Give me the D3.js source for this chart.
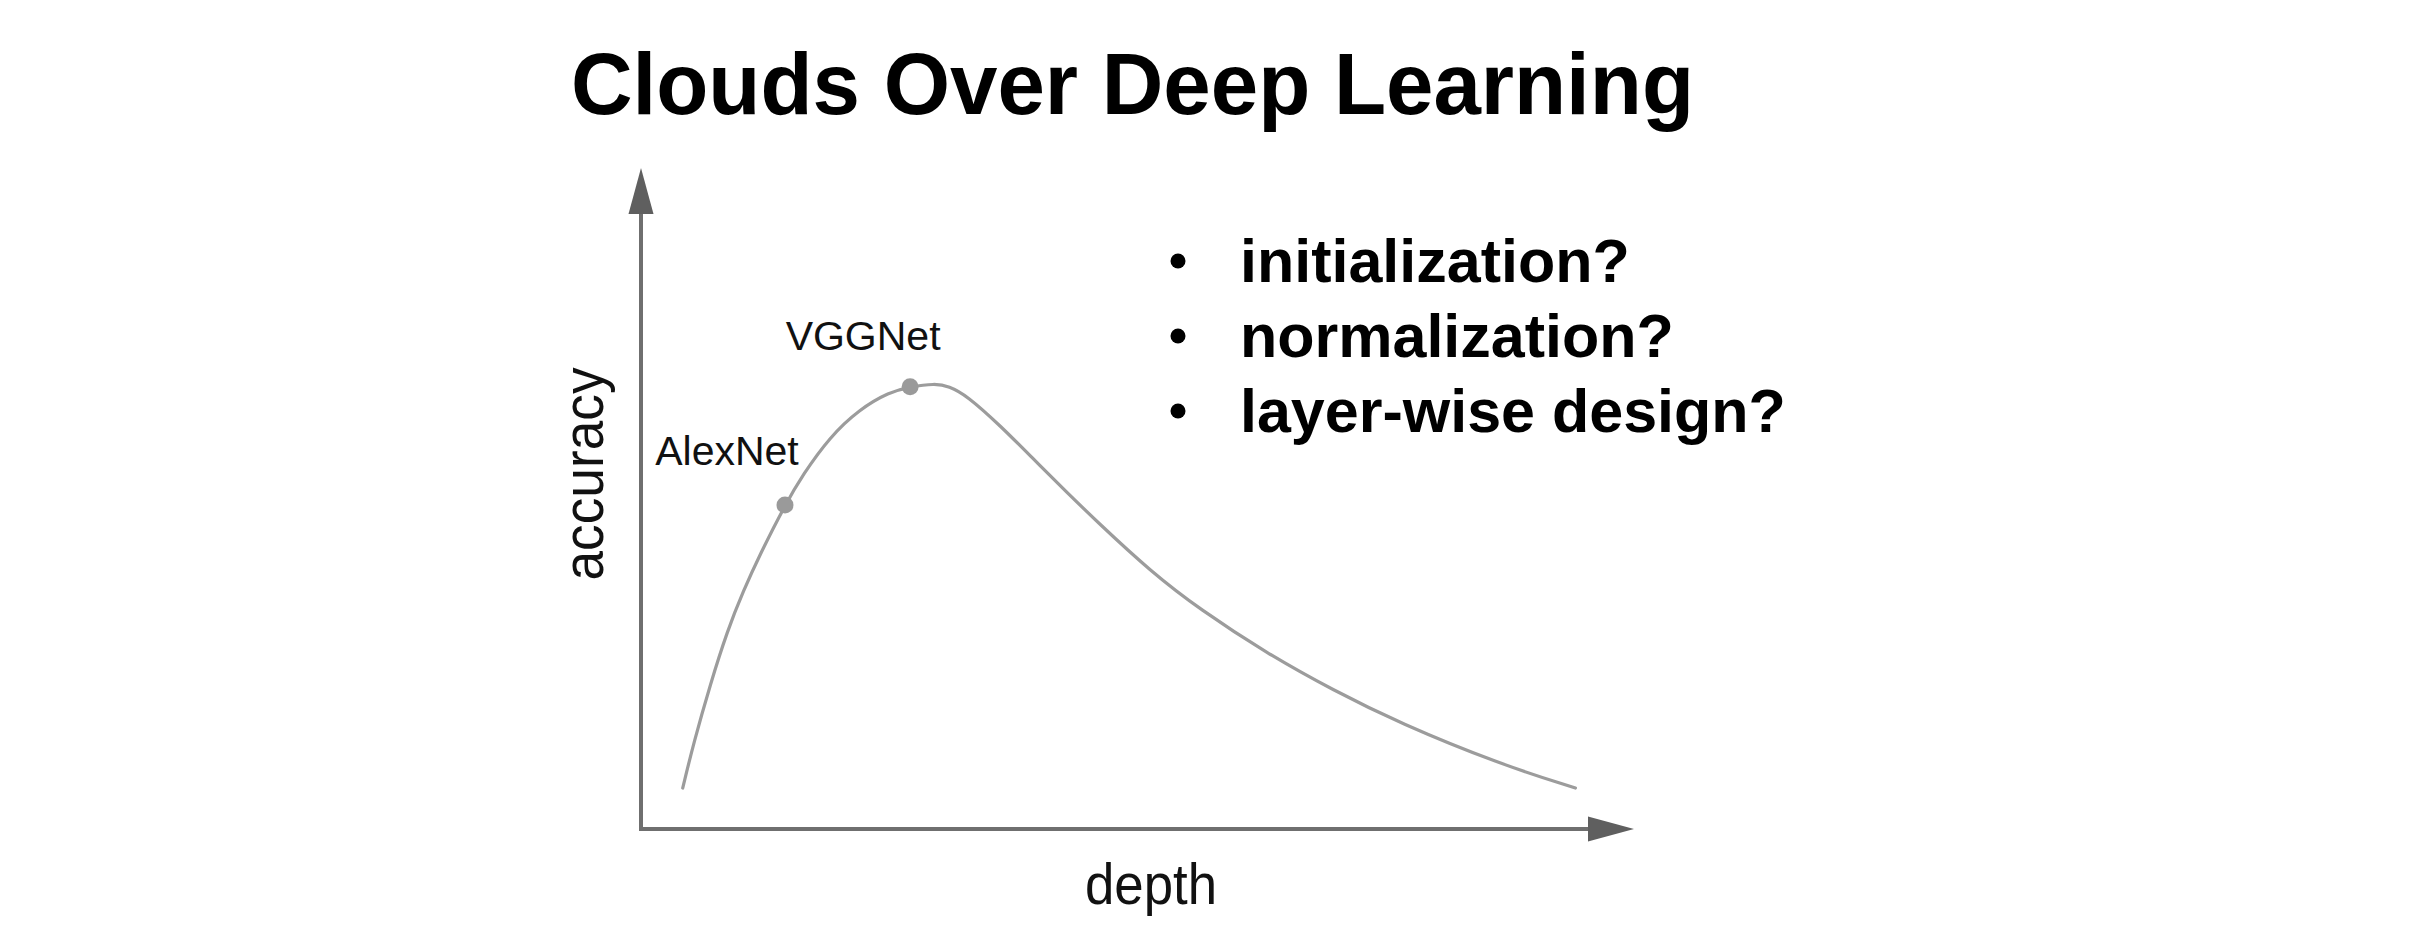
<!DOCTYPE html>
<html>
<head>
<meta charset="utf-8">
<script src="https://cdn.jsdelivr.net/npm/d3@7"></script>
<style>
  html, body { margin: 0; padding: 0; background: #fff; }
  svg { display: block; }
  text { font-family: "Liberation Sans", Arial, Helvetica, sans-serif; }
</style>
</head>
<body>
<svg id="chart" width="2421" height="947"></svg>
<script>
// ---- data ----
const title = "Clouds Over Deep Learning";
const xLabel = "depth";
const yLabel = "accuracy";
const curveDepth    = [4.2, 5.3, 7.0, 8.7, 10.3, 12.0, 14.5, 16.3, 19.0, 22.0, 25.0, 27.1, 29.6, 31.0, 32.8, 36.2, 39.5, 42.9, 46.0, 51.3, 56.3, 63.0, 69.7, 76.4, 86.5, 94.1];
const curveAccuracy = [6.2, 13.0, 22.0, 30.0, 36.0, 41.6, 49.0, 53.6, 59.3, 63.5, 66.1, 66.9, 67.4, 67.0, 65.6, 61.0, 56.0, 50.9, 46.4, 39.0, 33.2, 26.6, 21.0, 16.0, 9.8, 6.2];
const modelNames    = ["AlexNet", "VGGNet"];
const modelDepth    = [14.5, 27.1];
const modelAccuracy = [49.0, 66.9];
const bullets = ["initialization?", "normalization?", "layer-wise design?"];

// ---- layout ----
const svg = d3.select("#chart");
const x = d3.scaleLinear().domain([0, 100]).range([641, 1634]);
const y = d3.scaleLinear().domain([0, 100]).range([829, 168]);
const axisColor = "#6f6f6f";
const arrowLen = 46, arrowHalf = 12.5;

// title
svg.append("text")
  .attr("x", 571).attr("y", 114)
  .attr("font-size", 87).attr("font-weight", "bold").attr("fill", "#000")
  .attr("textLength", 1123).attr("lengthAdjust", "spacingAndGlyphs")
  .text(title);

// axes
const ax = svg.append("g");
ax.append("line")
  .attr("x1", x(0)).attr("y1", y(0))
  .attr("x2", x(100) - arrowLen + 2).attr("y2", y(0))
  .attr("stroke", axisColor).attr("stroke-width", 4);
ax.append("path")
  .attr("d", `M${x(100)},${y(0)} L${x(100) - arrowLen},${y(0) - arrowHalf} L${x(100) - arrowLen},${y(0) + arrowHalf} Z`)
  .attr("fill", "#5f5f5f");
ax.append("line")
  .attr("x1", x(0)).attr("y1", y(0) + 2)
  .attr("x2", x(0)).attr("y2", y(100) + arrowLen - 2)
  .attr("stroke", axisColor).attr("stroke-width", 4);
ax.append("path")
  .attr("d", `M${x(0)},${y(100)} L${x(0) - arrowHalf},${y(100) + arrowLen} L${x(0) + arrowHalf},${y(100) + arrowLen} Z`)
  .attr("fill", "#5f5f5f");

// axis labels
svg.append("text")
  .attr("x", 1151).attr("y", 904)
  .attr("text-anchor", "middle").attr("font-size", 57).attr("fill", "#111")
  .attr("textLength", 132).attr("lengthAdjust", "spacingAndGlyphs")
  .text(xLabel);
svg.append("text")
  .attr("transform", "translate(603,474) rotate(-90)")
  .attr("text-anchor", "middle").attr("font-size", 57).attr("fill", "#111")
  .attr("textLength", 213).attr("lengthAdjust", "spacingAndGlyphs")
  .text(yLabel);

// curve
const pts = curveDepth.map((d, i) => [d, curveAccuracy[i]]);
const line = d3.line().x(d => x(d[0])).y(d => y(d[1])).curve(d3.curveBasis);
svg.append("path")
  .datum(pts)
  .attr("d", line)
  .attr("fill", "none")
  .attr("stroke", "#9c9c9c")
  .attr("stroke-width", 3.2)
  .attr("stroke-linecap", "round");

// model points
const models = modelNames.map((n, i) => ({ name: n, d: modelDepth[i], a: modelAccuracy[i] }));
svg.selectAll("circle.model").data(models).enter().append("circle")
  .attr("class", "model")
  .attr("cx", d => x(d.d)).attr("cy", d => y(d.a))
  .attr("r", 8.5).attr("fill", "#9a9a9a");
const labelOff = { AlexNet: [-58, -40], VGGNet: [-47, -37] };
svg.selectAll("text.model").data(models).enter().append("text")
  .attr("class", "model")
  .attr("x", d => x(d.d) + labelOff[d.name][0])
  .attr("y", d => y(d.a) + labelOff[d.name][1])
  .attr("text-anchor", "middle").attr("font-size", 41).attr("fill", "#111")
  .text(d => d.name);

// bullets
const bg = svg.append("g");
bullets.forEach((b, i) => {
  const base = 282 + i * 75;
  bg.append("circle").attr("cx", 1178).attr("cy", base - 21).attr("r", 7.5).attr("fill", "#000");
  bg.append("text").attr("x", 1240).attr("y", base)
    .attr("font-size", 61).attr("font-weight", "bold").attr("fill", "#000")
    .text(b);
});
</script>
</body>
</html>
